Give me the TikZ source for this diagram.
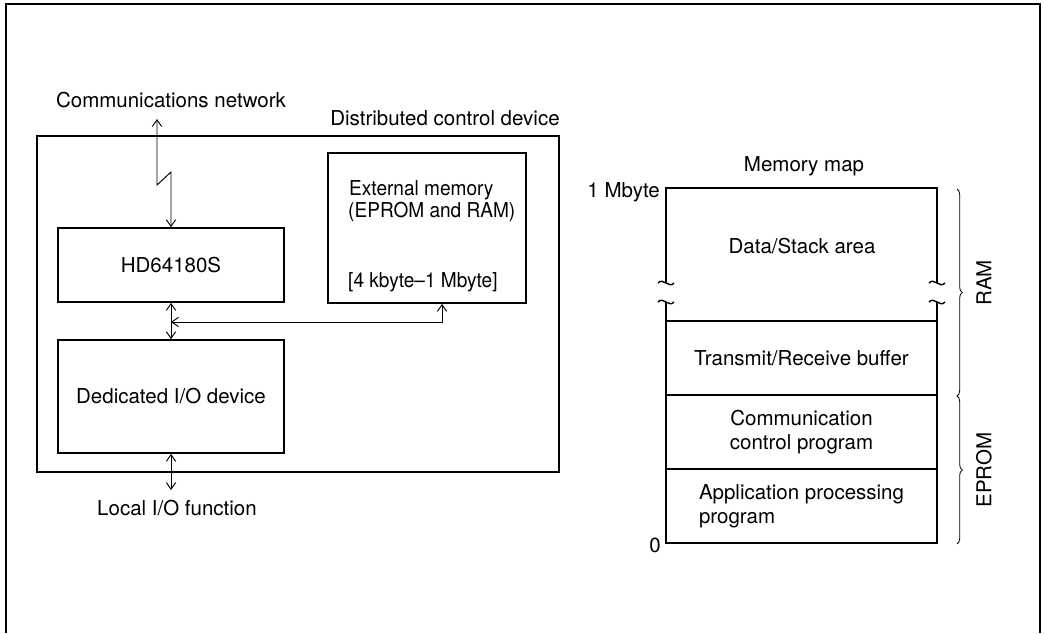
\documentclass[tikz,border=0pt]{standalone}
\usepackage{fontspec}
\setmainfont{TeX Gyre Heros}
\usetikzlibrary{arrows.meta,decorations.pathreplacing}

\begin{document}
\begin{tikzpicture}[x=0.03cm,y=-0.03cm,
  every node/.style={font=\fontsize{17.5}{20.5}\selectfont, inner sep=0pt},
  box/.style={draw, line width=1.5pt},
  frame/.style={draw, line width=1pt},
  link/.style={line width=0.8pt, >={Straight Barb[length=2mm,width=2.8mm]}},
  bracket/.style={line width=0.7pt, decorate, decoration={brace, amplitude=1.6mm}},
  brk/.style={line width=1.2pt},
  memtext/.style={anchor=west, xscale=0.93}]

\useasboundingbox (0,0) rectangle (1044,633);

% outer frame (open at the bottom)
\draw[line width=1.5pt] (6,633) -- (6,4) -- (1040,4) -- (1040,633);

% ---------- distributed control device ----------
\node[frame, minimum width=15.66cm, minimum height=10.08cm] (dev) at (298,304) {};
\node (devlbl) at (445,118) {Distributed control device};
\node (net) at (171,100) {Communications network};

\node[box, minimum width=6.78cm, minimum height=2.22cm] (hd) at (171,265) {HD64180S};
\node[box, minimum width=6.78cm, minimum height=3.39cm] (io) at (171,396.5) {Dedicated I/O device};
\node[box, minimum width=5.94cm, minimum height=4.5cm] (ext) at (427,228) {};
\node[memtext] (ext1) at (349,190) {External memory};
\node[memtext] (ext2) at (348,212) {(EPROM and RAM)};
\node[memtext] (ext3) at (348,282) {[4 kbyte--1 Mbyte]};

\node (loc) at (177,508) {Local I/O function};

% network link with zigzag
\coordinate (nettip) at (157,119);
\draw[link,<->] (nettip) -- (157,185) -- (hd.north |- 0,172) -- (hd.north);

% internal bus
\draw[link,<->] (hd.south) -- (io.south |- io.north);
\coordinate (busj) at (hd.south |- 0,322);
\draw[link,<->] (busj) -| (442,0 |- ext.south);

% local I/O
\coordinate (loctip) at (io.south |- 0,490);
\draw[link,<->] (io.south) -- (loctip);

% ---------- memory map ----------
\node (mmlbl) at (804,166) {Memory map};
\node[anchor=east] (top) at (660,192) {1 Mbyte};
\node[anchor=east] (zero) at (661,545) {0};

% data/stack area, broken at the bottom
\draw[box] (666,283) -- (666,188) -- (937,188) -- (937,283);
\node (data) at (802,246) {Data/Stack area};
\draw[box] (666,302) -- (666,321);
\draw[box] (937,302) -- (937,321);
\foreach \x in {666,937} {
  \draw[brk] (\x-8,283) .. controls (\x-3,277) and (\x+3,289) .. (\x+8,283);
  \draw[brk] (\x-8,302) .. controls (\x-3,296) and (\x+3,308) .. (\x+8,302);
}

\node[box, minimum width=8.13cm, minimum height=2.22cm] (tx) at (801.5,358) {Transmit/Receive buffer};
\node[box, minimum width=8.13cm, minimum height=2.22cm, align=center] (cc) at (801.5,432) {Communication\\control program};
\node[box, minimum width=8.13cm, minimum height=2.22cm, align=left] (ap) at (801.5,506) {Application processing\\program};

% RAM / EPROM ranges
\coordinate (ramtop) at (957,189);
\coordinate (ramend) at (957,396);
\coordinate (promend) at (957,544);
\draw[bracket] (ramtop) -- (ramend);
\draw[bracket] (ramend) -- (promend);
\node[rotate=90] (ram) at (984,283) {RAM};
\node[rotate=90] (prom) at (984,470) {EPROM};

\end{tikzpicture}
\end{document}
